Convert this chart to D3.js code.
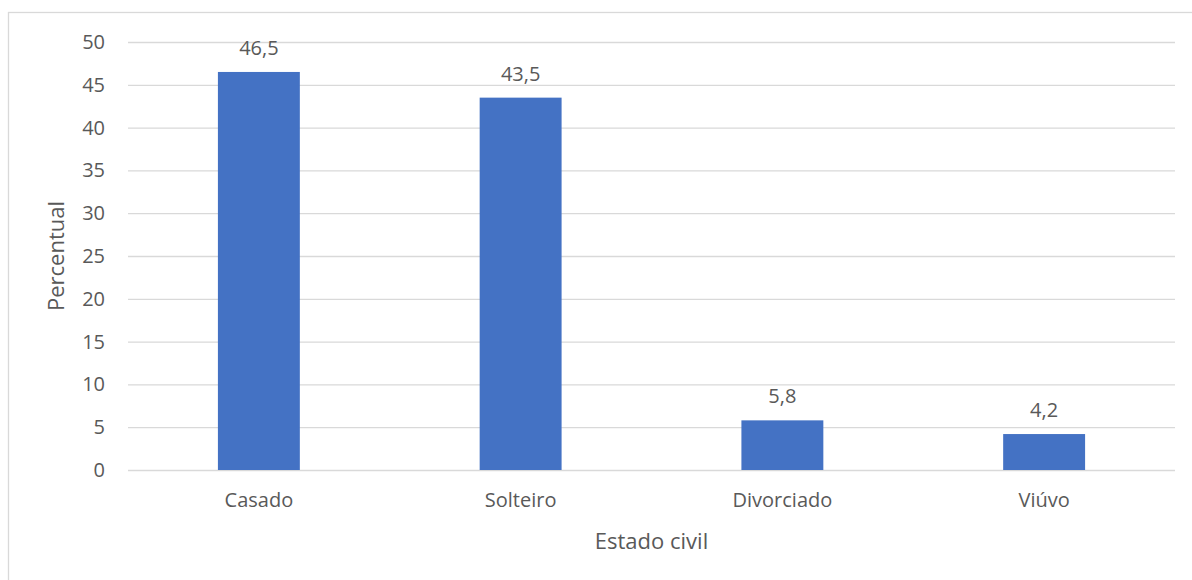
<!DOCTYPE html>
<html>
<head>
<meta charset="utf-8">
<script src="https://cdn.jsdelivr.net/npm/d3@7"></script>
<style>
  body { margin: 0; background: #fff; }
  svg text { font-family: "Open Sans", sans-serif; fill: #595959; }
</style>
</head>
<body>
<svg id="chart" width="1192" height="580"></svg>
<script>
// Estado civil chart
const categories = ["Casado", "Solteiro", "Divorciado", "Viúvo"];
const values = [46.5, 43.5, 5.8, 4.2];
const valueLabels = ["46,5", "43,5", "5,8", "4,2"];
const yTicks = [0, 5, 10, 15, 20, 25, 30, 35, 40, 45, 50];

const svg = d3.select("#chart"),
    margin = { top: 42, right: 17, bottom: 110, left: 128 },
    width = +svg.attr("width") - margin.left - margin.right,
    height = +svg.attr("height") - margin.top - margin.bottom;

// outer chart border
svg.append("rect")
    .attr("x", 8.5)
    .attr("y", 12.5)
    .attr("width", 1300)
    .attr("height", 700)
    .attr("fill", "none")
    .attr("stroke", "#d9d9d9")
    .attr("stroke-width", 1.3);

const g = svg.append("g")
    .attr("transform", "translate(" + margin.left + "," + margin.top + ")");

const xScale = d3.scaleBand()
    .domain(categories)
    .range([0, width])
    .paddingInner(0.687)
    .paddingOuter(0.3435);

const yScale = d3.scaleLinear()
    .domain([0, 50])
    .range([height, 0]);

// gridlines + y labels
const yAxis = g.append("g")
    .call(d3.axisLeft(yScale).tickValues(yTicks).tickSize(-width).tickPadding(23));
yAxis.select(".domain").remove();
yAxis.selectAll(".tick line").attr("stroke", "#d9d9d9").attr("stroke-width", 1.3);
yAxis.selectAll(".tick text").style("font-size", "20px").attr("fill", "#595959");

// bars
g.selectAll("rect.bar")
    .data(values)
    .enter()
    .append("rect")
    .attr("class", "bar")
    .attr("x", (d, i) => xScale(categories[i]))
    .attr("y", d => yScale(d))
    .attr("width", xScale.bandwidth())
    .attr("height", d => height - yScale(d))
    .style("fill", "#4472c4");

// value labels
g.selectAll("text.val")
    .data(values)
    .enter()
    .append("text")
    .attr("class", "val")
    .attr("x", (d, i) => xScale(categories[i]) + xScale.bandwidth() / 2)
    .attr("y", d => yScale(d) - 17)
    .attr("text-anchor", "middle")
    .style("font-size", "20px")
    .text((d, i) => valueLabels[i]);

// category axis
const xAxis = g.append("g")
    .attr("transform", "translate(0," + height + ")")
    .call(d3.axisBottom(xScale).tickSize(0).tickPadding(23));
xAxis.select(".domain").remove();
xAxis.selectAll(".tick text").style("font-size", "20px").attr("fill", "#595959");

// axis titles
svg.append("text")
    .attr("transform", "translate(64," + (margin.top + height / 2) + ") rotate(-90)")
    .attr("text-anchor", "middle")
    .style("font-size", "22px")
    .text("Percentual");

svg.append("text")
    .attr("x", margin.left + width / 2)
    .attr("y", 549)
    .attr("text-anchor", "middle")
    .style("font-size", "22px")
    .text("Estado civil");
</script>
</body>
</html>
